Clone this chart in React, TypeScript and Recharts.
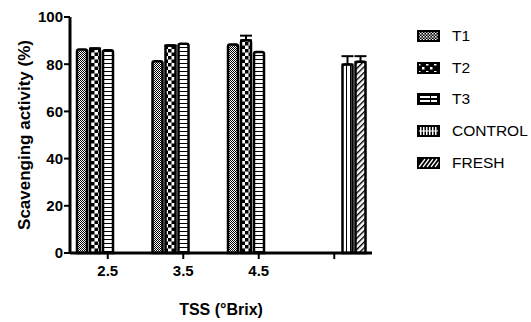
import React from 'react';
import { BarChart, Bar, XAxis, YAxis, ErrorBar, Label } from 'recharts';

const categories = ['2.5', '3.5', '4.5', ''];
const t1 = [86.2, 81.2, 88.3, null];
const t2 = [86.6, 87.9, 90.1, null];
const t3 = [85.9, 88.7, 85.2, null];
const control = [null, null, null, 79.9];
const fresh = [null, null, null, 81.0];
const t2Err = [0, 0, 2.0, null];
const controlErr = [null, null, null, 3.5];
const freshErr = [null, null, null, 2.4];
const yTicks = [0, 20, 40, 60, 80, 100];

const seriesNames = ['T1', 'T2', 'T3', 'CONTROL', 'FRESH'];
const patternIds = ['pT1', 'pT2', 'pT3', 'pCTRL', 'pFRESH'];

const data = categories.map((c, i) => ({
  cat: c,
  T1: t1[i],
  T2: t2[i],
  T3: t3[i],
  CONTROL: control[i],
  FRESH: fresh[i],
  T2e: t2Err[i] == null ? null : [0, t2Err[i]],
  CTRLe: controlErr[i] == null ? null : [0, controlErr[i]],
  FRESHe: freshErr[i] == null ? null : [0, freshErr[i]],
}));

const FONT = "Arial, 'Liberation Sans', sans-serif";

const Patterns = () => (
  <defs>
    <pattern id="pT1" width="2" height="2" patternUnits="userSpaceOnUse">
      <rect width="2" height="2" fill="#fff" />
      <rect width="1" height="1" fill="#000" />
      <rect x="1" y="1" width="1" height="1" fill="#000" />
    </pattern>
    <pattern id="pT2" width="7" height="7" patternUnits="userSpaceOnUse">
      <rect width="7" height="7" fill="#fff" />
      <rect width="3.5" height="3.5" fill="#000" />
      <rect x="3.5" y="3.5" width="3.5" height="3.5" fill="#000" />
    </pattern>
    <pattern id="pT3" width="4" height="4" patternUnits="userSpaceOnUse">
      <rect width="4" height="4" fill="#fff" />
      <rect y="3" width="4" height="1" fill="#000" />
    </pattern>
    <pattern id="pCTRL" width="4" height="4" patternUnits="userSpaceOnUse">
      <rect width="4" height="4" fill="#fff" />
      <rect x="2" width="1" height="4" fill="#000" />
    </pattern>
    <pattern id="pFRESH" width="4" height="4" patternUnits="userSpaceOnUse" patternTransform="rotate(45)">
      <rect width="4" height="4" fill="#fff" />
      <rect width="1.4" height="4" fill="#000" />
    </pattern>
    <pattern id="lT1" width="3" height="3" patternUnits="userSpaceOnUse">
      <rect width="3" height="3" fill="#000" />
      <rect width="1.5" height="1.5" fill="#fff" />
      <rect x="1.5" y="1.5" width="1.5" height="1.5" fill="#bbb" />
    </pattern>
    <pattern id="lT2" width="8" height="8" patternUnits="userSpaceOnUse">
      <rect width="8" height="8" fill="#000" />
      <rect x="1" y="1" width="2.5" height="2.5" fill="#fff" />
      <rect x="5" y="5" width="2.5" height="2.5" fill="#fff" />
    </pattern>
  </defs>
);

const LegendSwatch = ({ idx }: { idx: number }) => {
  const w = 23, h = 12;
  let inner: React.ReactNode = null;
  if (idx === 0) inner = <rect x={2} y={2} width={w - 4} height={h - 4} fill="url(#lT1)" />;
  if (idx === 1) inner = <rect x={2} y={2} width={w - 4} height={h - 4} fill="url(#lT2)" />;
  if (idx === 2)
    inner = (
      <g fill="#fff">
        <rect x={3} y={3} width={17} height={2} />
        <rect x={3} y={7} width={17} height={2} />
        <rect x={13} y={2} width={1} height={8} fill="#000" />
      </g>
    );
  if (idx === 3)
    inner = (
      <g fill="#fff">
        {[3, 6, 9, 12, 15, 18].map((x) => (
          <rect key={x} x={x} y={2} width={1.5} height={8} />
        ))}
        <rect x={2} y={5.5} width={19} height={1} fill="#fff" />
      </g>
    );
  if (idx === 4)
    inner = (
      <g stroke="#fff" strokeWidth={1.3}>
        {[0, 4, 8, 12, 16, 20].map((x) => (
          <line key={x} x1={x + 2} y1={h - 2} x2={x + 8} y2={2} />
        ))}
      </g>
    );
  return (
    <svg width={w} height={h} style={{ display: 'block', overflow: 'hidden' }}>
      <rect x={0} y={0} width={w} height={h} fill="#000" />
      {inner}
      {idx === 4 && <rect x={0} y={0} width={w} height={h} fill="none" stroke="#000" strokeWidth={3} />}
    </svg>
  );
};

const CustomLegend = () => (
  <div style={{ position: 'absolute', left: 417, top: 20, fontFamily: FONT, fontSize: 15.5, color: '#000' }}>
    {seriesNames.map((n, i) => (
      <div key={n} style={{ display: 'flex', alignItems: 'center', height: 31.7 }}>
        <LegendSwatch idx={i} />
        <span style={{ marginLeft: 12, lineHeight: '16px' }}>{n}</span>
      </div>
    ))}
  </div>
);

const barProps = { stroke: '#000', strokeWidth: 2.5, radius: [2, 2, 0, 0] as [number, number, number, number], isAnimationActive: false };

export default function App() {
  return (
    <div style={{ position: 'absolute', left: 0, top: 0, width: 531, height: 322, background: '#fff' }}>
      <BarChart
        width={531}
        height={322}
        data={data}
        margin={{ top: 17, right: 159, bottom: 0, left: 0 }}
        barSize={10}
        barGap={3}
      >
        <Patterns />
        <XAxis
          dataKey="cat"
          height={69}
          axisLine={{ stroke: '#000', strokeWidth: 3 }}
          tickLine={{ stroke: '#000', strokeWidth: 2 }}
          tickSize={6}
          tickMargin={6}
          tick={{ fill: '#000', fontSize: 15, fontWeight: 700, fontFamily: FONT }}
          interval={0}
        >
          <Label
            value="TSS (°Brix)"
            position="insideBottom"
            offset={7}
            style={{ fill: '#000', fontSize: 16, fontWeight: 700, fontFamily: FONT }}
          />
        </XAxis>
        <YAxis
          width={70}
          domain={[0, 100]}
          ticks={yTicks}
          axisLine={{ stroke: '#000', strokeWidth: 3 }}
          tickLine={{ stroke: '#000', strokeWidth: 2 }}
          tickSize={6}
          tickMargin={1}
          tick={{ fill: '#000', fontSize: 15, fontWeight: 700, fontFamily: FONT }}
        >
          <Label
            value="Scavenging activity (%)"
            angle={-90}
            position="insideLeft"
            offset={24}
            style={{ textAnchor: 'middle', fill: '#000', fontSize: 17, fontWeight: 700, fontFamily: FONT }}
          />
        </YAxis>
        <Bar dataKey="T1" fill={`url(#${patternIds[0]})`} {...barProps} />
        <Bar dataKey="T2" fill={`url(#${patternIds[1]})`} {...barProps}>
          <ErrorBar dataKey="T2e" width={6} stroke="#000" strokeWidth={2} direction="y" />
        </Bar>
        <Bar dataKey="T3" fill={`url(#${patternIds[2]})`} {...barProps} />
        <Bar dataKey="CONTROL" fill={`url(#${patternIds[3]})`} {...barProps}>
          <ErrorBar dataKey="CTRLe" width={6} stroke="#000" strokeWidth={2} direction="y" />
        </Bar>
        <Bar dataKey="FRESH" fill={`url(#${patternIds[4]})`} {...barProps}>
          <ErrorBar dataKey="FRESHe" width={6} stroke="#000" strokeWidth={2} direction="y" />
        </Bar>
      </BarChart>
      <CustomLegend />
    </div>
  );
}
